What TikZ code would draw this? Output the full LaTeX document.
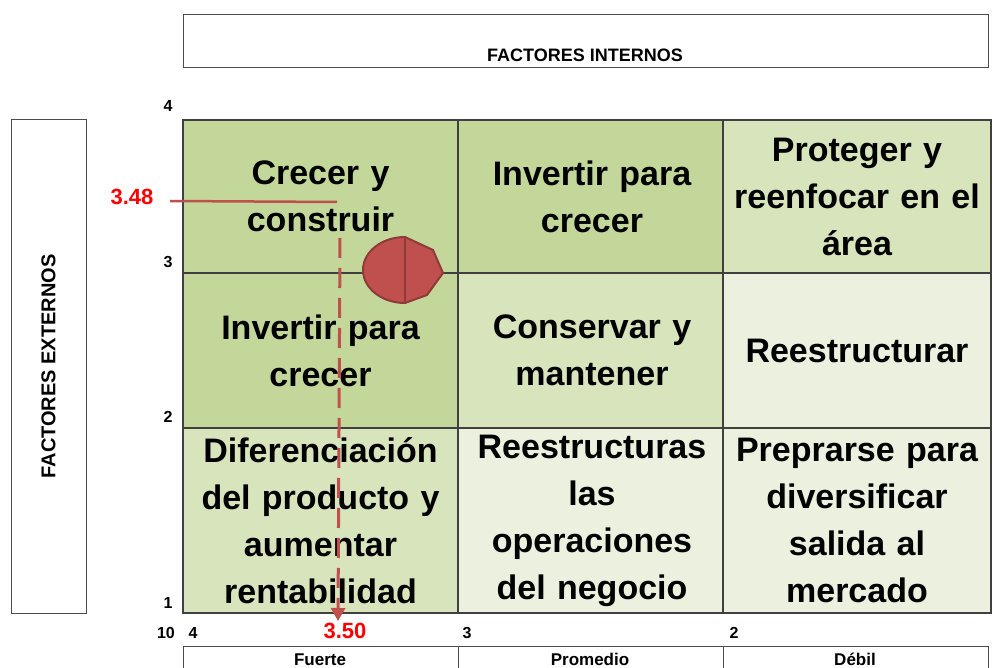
\documentclass[tikz,border=0pt]{standalone}
\usepackage{fontspec}
\setmainfont{Liberation Sans}
\usetikzlibrary{arrows.meta}
\definecolor{verdeA}{HTML}{C4D79B}
\definecolor{verdeB}{HTML}{D8E4BC}
\definecolor{verdeC}{HTML}{EBF1DE}
\definecolor{rojo}{HTML}{C0504D}
\definecolor{rojoosc}{HTML}{8E3B39}

\begin{document}
\begin{tikzpicture}[x=1pt,y=-1pt,
    every node/.style={inner sep=0pt,outer sep=0pt},
    celda/.style={draw=black!75,line width=1.1pt,rectangle,anchor=north west,text width=268pt,align=center,
        font=\fontsize{34}{47}\selectfont\bfseries},
    caja/.style={draw=black!70,line width=1pt,rectangle,anchor=north west,fill=white},
    eje/.style={font=\fontsize{18}{20}\selectfont\bfseries},
    num/.style={font=\fontsize{16}{18}\selectfont\bfseries},
    valor/.style={text=red,font=\fontsize{22}{24}\selectfont\bfseries}
]
\useasboundingbox (0,0) rectangle (994,668);
\clip (0,0) rectangle (994,668);

% titulos de los ejes
\node[caja,minimum width=805,minimum height=53] (internos) at (183,15) {};
\node[eje] at (585,55) {FACTORES INTERNOS};
\node[caja,minimum width=75,minimum height=493] (externos) at (11,120) {};
\node[eje,rotate=90,font=\fontsize{20}{22}\selectfont\bfseries] at (externos.center) {FACTORES EXTERNOS};

% matriz
\node[celda,fill=verdeA,minimum width=275,minimum height=153] (c11) at (183,120) {Crecer y\\construir};
\node[celda,fill=verdeA,minimum width=265,minimum height=153] (c12) at (458,120) {Invertir para\\crecer};
\node[celda,fill=verdeB,minimum width=265,minimum height=153] (c13) at (723,120) {Proteger y\\reenfocar en el\\área};
\node[celda,fill=verdeA,minimum width=275,minimum height=155] (c21) at (183,273) {Invertir para\\crecer};
\node[celda,fill=verdeB,minimum width=265,minimum height=155] (c22) at (458,273) {Conservar y\\mantener};
\node[celda,fill=verdeC,minimum width=265,minimum height=155] (c23) at (723,273) {Reestructurar};
\node[celda,fill=verdeB,minimum width=275,minimum height=185] (c31) at (183,428) {Diferenciación\\del producto y\\aumentar\\rentabilidad};
\node[celda,fill=verdeC,minimum width=265,minimum height=185] (c32) at (458,428) {Reestructuras\\las\\operaciones\\del negocio};
\node[celda,fill=verdeC,minimum width=265,minimum height=185] (c33) at (723,428) {Preprarse para\\diversificar\\salida al\\mercado};

% escalas
\node[num] at (168,106) {4};
\node[num] at (168,262) {3};
\node[num] at (168,417) {2};
\node[num] at (168,603) {1};
\node[num] at (166,633) {10};
\node[num] at (193,633) {4};
\node[num] at (467,633) {3};
\node[num] at (734,633) {2};
\node[num] at (998,630) {1};

\node[caja,minimum width=275,minimum height=40] (fuerte) at (183,646) {};
\node[caja,minimum width=265,minimum height=40] (promedio) at (458,646) {};
\node[caja,minimum width=265,minimum height=40] (debil) at (723,646) {};
\node[eje,font=\fontsize{17}{19}\selectfont\bfseries,anchor=base] at (320,665) {Fuerte};
\node[eje,font=\fontsize{17}{19}\selectfont\bfseries,anchor=base] at (590,665) {Promedio};
\node[eje,font=\fontsize{17}{19}\selectfont\bfseries,anchor=base] at (855,665) {Débil};

% posicion de la empresa
\node[valor] (ve) at (132,197) {3.48};
\node[valor] (vi) at (345,631) {3.50};
\coordinate (h0) at (170,201);
\coordinate (h1) at (337,202);
\coordinate (v0) at (340,238);
\coordinate (v1) at (338,621);
\draw[rojo,line width=2.5pt] (h0) -- (h1);
\draw[rojo,line width=3pt,dash pattern=on 20pt off 10pt,-{Triangle[width=14pt,length=13pt]}] (v0) -- (v1);

\filldraw[fill=rojo,draw=rojoosc,line width=2pt]
    (405,237) arc[start angle=270,end angle=90,x radius=42,y radius=33]
    -- (427,295) -- (443,273) -- (433,250) -- cycle;
\draw[rojoosc,line width=2pt] (405,237) -- (405,303);
\end{tikzpicture}
\end{document}
